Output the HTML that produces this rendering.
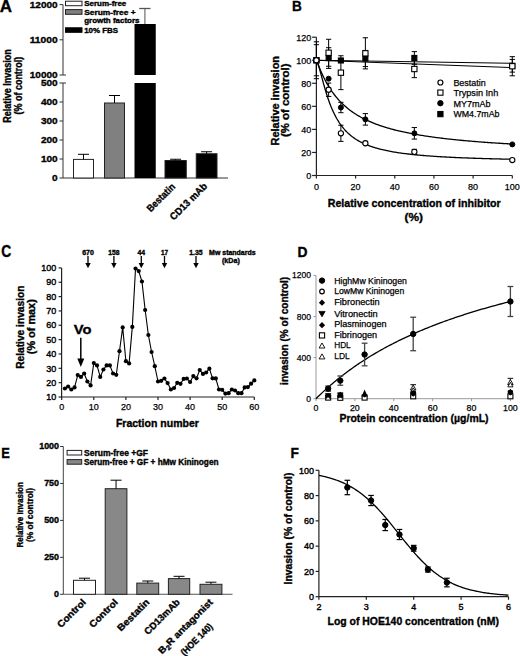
<!DOCTYPE html>
<html><head><meta charset="utf-8"><style>
html,body{margin:0;padding:0;background:#fff;}
svg{display:block;font-family:"Liberation Sans",sans-serif;}
text.b{stroke:#000;stroke-width:0.35px;}
text.r{stroke:#000;stroke-width:0.25px;}
</style></head><body>
<svg width="520" height="656" viewBox="0 0 520 656">
<rect width="520" height="656" fill="#fff"/>
<text x="-0.30" y="11.50" font-size="17" font-weight="bold" class="b">A</text>
<line x1="63.00" y1="4.60" x2="63.00" y2="75.00" stroke="#333" stroke-width="1"/>
<line x1="59.50" y1="4.60" x2="63.00" y2="4.60" stroke="#333" stroke-width="1"/>
<text x="57.70" y="7.60" font-size="9.8" font-weight="bold" class="b" text-anchor="end" textLength="28.00" lengthAdjust="spacingAndGlyphs">12000</text>
<line x1="59.50" y1="39.80" x2="63.00" y2="39.80" stroke="#333" stroke-width="1"/>
<text x="57.70" y="42.80" font-size="9.8" font-weight="bold" class="b" text-anchor="end" textLength="28.00" lengthAdjust="spacingAndGlyphs">11000</text>
<line x1="59.50" y1="75.00" x2="63.00" y2="75.00" stroke="#333" stroke-width="1"/>
<text x="57.70" y="78.00" font-size="9.8" font-weight="bold" class="b" text-anchor="end" textLength="28.00" lengthAdjust="spacingAndGlyphs">10000</text>
<line x1="63.00" y1="75.00" x2="66.00" y2="75.00" stroke="#333" stroke-width="1"/>
<line x1="63.00" y1="83.00" x2="66.00" y2="83.00" stroke="#333" stroke-width="1"/>
<line x1="63.00" y1="83.00" x2="63.00" y2="178.00" stroke="#333" stroke-width="1"/>
<line x1="59.50" y1="178.00" x2="63.00" y2="178.00" stroke="#333" stroke-width="1"/>
<text x="57.70" y="181.00" font-size="9.8" font-weight="bold" class="b" text-anchor="end" textLength="5.60" lengthAdjust="spacingAndGlyphs">0</text>
<line x1="59.50" y1="159.00" x2="63.00" y2="159.00" stroke="#333" stroke-width="1"/>
<text x="57.70" y="162.00" font-size="9.8" font-weight="bold" class="b" text-anchor="end" textLength="16.80" lengthAdjust="spacingAndGlyphs">100</text>
<line x1="59.50" y1="140.00" x2="63.00" y2="140.00" stroke="#333" stroke-width="1"/>
<text x="57.70" y="143.00" font-size="9.8" font-weight="bold" class="b" text-anchor="end" textLength="16.80" lengthAdjust="spacingAndGlyphs">200</text>
<line x1="59.50" y1="121.00" x2="63.00" y2="121.00" stroke="#333" stroke-width="1"/>
<text x="57.70" y="124.00" font-size="9.8" font-weight="bold" class="b" text-anchor="end" textLength="16.80" lengthAdjust="spacingAndGlyphs">300</text>
<line x1="59.50" y1="102.00" x2="63.00" y2="102.00" stroke="#333" stroke-width="1"/>
<text x="57.70" y="105.00" font-size="9.8" font-weight="bold" class="b" text-anchor="end" textLength="16.80" lengthAdjust="spacingAndGlyphs">400</text>
<line x1="59.50" y1="83.00" x2="63.00" y2="83.00" stroke="#333" stroke-width="1"/>
<text x="57.70" y="86.00" font-size="9.8" font-weight="bold" class="b" text-anchor="end" textLength="16.80" lengthAdjust="spacingAndGlyphs">500</text>
<line x1="63.00" y1="178.00" x2="228.00" y2="178.00" stroke="#333" stroke-width="1"/>
<rect x="73.50" y="159.40" width="20.00" height="18.60" fill="#fff" stroke="#222" stroke-width="1"/>
<line x1="83.50" y1="159.40" x2="83.50" y2="154.30" stroke="#000" stroke-width="1"/>
<line x1="78.00" y1="154.30" x2="89.00" y2="154.30" stroke="#000" stroke-width="1"/>
<rect x="104.50" y="103.00" width="20.00" height="75.00" fill="#808080" stroke="#222" stroke-width="1"/>
<line x1="114.50" y1="103.00" x2="114.50" y2="95.50" stroke="#000" stroke-width="1"/>
<line x1="109.00" y1="95.50" x2="120.00" y2="95.50" stroke="#000" stroke-width="1"/>
<rect x="134.50" y="24.00" width="21.25" height="51.00" fill="#000" stroke="#000" stroke-width="0"/>
<rect x="134.50" y="83.00" width="21.25" height="95.00" fill="#000" stroke="#000" stroke-width="0"/>
<line x1="144.90" y1="24.00" x2="144.90" y2="8.50" stroke="#777" stroke-width="1.3"/>
<line x1="139.20" y1="8.50" x2="150.50" y2="8.50" stroke="#555" stroke-width="1.3"/>
<rect x="165.00" y="160.50" width="21.25" height="17.50" fill="#000" stroke="#222" stroke-width="1"/>
<line x1="175.62" y1="160.50" x2="175.62" y2="159.25" stroke="#000" stroke-width="1"/>
<line x1="170.12" y1="159.25" x2="181.12" y2="159.25" stroke="#000" stroke-width="1"/>
<rect x="196.25" y="153.75" width="20.75" height="24.25" fill="#000" stroke="#222" stroke-width="1"/>
<line x1="206.62" y1="153.75" x2="206.62" y2="151.75" stroke="#000" stroke-width="1"/>
<line x1="201.12" y1="151.75" x2="212.12" y2="151.75" stroke="#000" stroke-width="1"/>
<rect x="65.50" y="1.20" width="16.50" height="4.50" fill="#fff" stroke="#222" stroke-width="1"/>
<rect x="65.50" y="9.60" width="16.50" height="4.70" fill="#808080" stroke="#222" stroke-width="1"/>
<rect x="65.50" y="27.80" width="16.50" height="4.50" fill="#000" stroke="#000" stroke-width="1"/>
<text x="84.20" y="6.30" font-size="7" font-weight="bold" class="b" textLength="42.10" lengthAdjust="spacingAndGlyphs">Serum-free</text>
<text x="84.20" y="14.60" font-size="7" font-weight="bold" class="b" textLength="51.50" lengthAdjust="spacingAndGlyphs">Serum-free +</text>
<text x="84.20" y="22.90" font-size="7" font-weight="bold" class="b" textLength="55.30" lengthAdjust="spacingAndGlyphs">growth factors</text>
<text x="84.20" y="32.50" font-size="7" font-weight="bold" class="b" textLength="33.80" lengthAdjust="spacingAndGlyphs">10% FBS</text>
<text x="11.20" y="86.00" font-size="10" font-weight="bold" class="b" text-anchor="middle" textLength="73.70" lengthAdjust="spacingAndGlyphs" transform="rotate(-90 11.20 86.00)">Relative Invasion</text>
<text x="21.80" y="85.60" font-size="10" font-weight="bold" class="b" text-anchor="middle" textLength="57.80" lengthAdjust="spacingAndGlyphs" transform="rotate(-90 21.80 85.60)">(% of control)</text>
<text x="175.80" y="187.40" font-size="10" font-weight="bold" class="b" text-anchor="end" textLength="35.50" lengthAdjust="spacingAndGlyphs" transform="rotate(-45 175.80 187.40)">Bestatin</text>
<text x="207.80" y="186.80" font-size="10" font-weight="bold" class="b" text-anchor="end" textLength="48.00" lengthAdjust="spacingAndGlyphs" transform="rotate(-45 207.80 186.80)">CD13 mAb</text>
<text x="291.90" y="11.20" font-size="15" font-weight="bold" class="b" textLength="9.80" lengthAdjust="spacingAndGlyphs">B</text>
<line x1="316.40" y1="37.20" x2="316.40" y2="175.50" stroke="#222" stroke-width="1.2"/>
<line x1="316.40" y1="175.50" x2="512.30" y2="175.50" stroke="#222" stroke-width="1.2"/>
<line x1="312.10" y1="175.50" x2="316.40" y2="175.50" stroke="#222" stroke-width="1.2"/>
<text x="311.20" y="178.80" font-size="9.5" class="r" text-anchor="end" textLength="5.00" lengthAdjust="spacingAndGlyphs">0</text>
<line x1="312.10" y1="152.45" x2="316.40" y2="152.45" stroke="#222" stroke-width="1.2"/>
<text x="311.20" y="155.75" font-size="9.5" class="r" text-anchor="end" textLength="10.00" lengthAdjust="spacingAndGlyphs">20</text>
<line x1="312.10" y1="129.40" x2="316.40" y2="129.40" stroke="#222" stroke-width="1.2"/>
<text x="311.20" y="132.70" font-size="9.5" class="r" text-anchor="end" textLength="10.00" lengthAdjust="spacingAndGlyphs">40</text>
<line x1="312.10" y1="106.35" x2="316.40" y2="106.35" stroke="#222" stroke-width="1.2"/>
<text x="311.20" y="109.65" font-size="9.5" class="r" text-anchor="end" textLength="10.00" lengthAdjust="spacingAndGlyphs">60</text>
<line x1="312.10" y1="83.30" x2="316.40" y2="83.30" stroke="#222" stroke-width="1.2"/>
<text x="311.20" y="86.60" font-size="9.5" class="r" text-anchor="end" textLength="10.00" lengthAdjust="spacingAndGlyphs">80</text>
<line x1="312.10" y1="60.25" x2="316.40" y2="60.25" stroke="#222" stroke-width="1.2"/>
<text x="311.20" y="63.55" font-size="9.5" class="r" text-anchor="end" textLength="15.00" lengthAdjust="spacingAndGlyphs">100</text>
<line x1="312.10" y1="37.20" x2="316.40" y2="37.20" stroke="#222" stroke-width="1.2"/>
<text x="311.20" y="40.50" font-size="9.5" class="r" text-anchor="end" textLength="15.00" lengthAdjust="spacingAndGlyphs">120</text>
<line x1="316.40" y1="175.50" x2="316.40" y2="178.50" stroke="#222" stroke-width="1.2"/>
<text x="316.40" y="189.60" font-size="9.8" class="r" text-anchor="middle" textLength="5.00" lengthAdjust="spacingAndGlyphs">0</text>
<line x1="355.58" y1="175.50" x2="355.58" y2="178.50" stroke="#222" stroke-width="1.2"/>
<text x="355.58" y="189.60" font-size="9.8" class="r" text-anchor="middle" textLength="10.00" lengthAdjust="spacingAndGlyphs">20</text>
<line x1="394.76" y1="175.50" x2="394.76" y2="178.50" stroke="#222" stroke-width="1.2"/>
<text x="394.76" y="189.60" font-size="9.8" class="r" text-anchor="middle" textLength="10.00" lengthAdjust="spacingAndGlyphs">40</text>
<line x1="433.94" y1="175.50" x2="433.94" y2="178.50" stroke="#222" stroke-width="1.2"/>
<text x="433.94" y="189.60" font-size="9.8" class="r" text-anchor="middle" textLength="10.00" lengthAdjust="spacingAndGlyphs">60</text>
<line x1="473.12" y1="175.50" x2="473.12" y2="178.50" stroke="#222" stroke-width="1.2"/>
<text x="473.12" y="189.60" font-size="9.8" class="r" text-anchor="middle" textLength="10.00" lengthAdjust="spacingAndGlyphs">80</text>
<line x1="512.30" y1="175.50" x2="512.30" y2="178.50" stroke="#222" stroke-width="1.2"/>
<text x="512.30" y="189.60" font-size="9.8" class="r" text-anchor="middle" textLength="15.00" lengthAdjust="spacingAndGlyphs">100</text>
<text x="414.20" y="207.00" font-size="11" font-weight="bold" class="b" text-anchor="middle" textLength="173.00" lengthAdjust="spacingAndGlyphs">Relative concentration of inhibitor</text>
<text x="413.80" y="220.60" font-size="11" font-weight="bold" class="b" text-anchor="middle" textLength="18.50" lengthAdjust="spacingAndGlyphs">(%)</text>
<text x="279.50" y="100.70" font-size="11" font-weight="bold" class="b" text-anchor="middle" textLength="89.50" lengthAdjust="spacingAndGlyphs" transform="rotate(-90 279.50 100.70)">Relative invasion</text>
<text x="289.40" y="100.30" font-size="11" font-weight="bold" class="b" text-anchor="middle" textLength="73.50" lengthAdjust="spacingAndGlyphs" transform="rotate(-90 289.40 100.30)">(% of control)</text>
<polyline points="316.40,60.25 316.65,60.83 316.90,61.45 317.15,62.08 317.40,62.72 317.66,63.35 317.91,63.99 318.16,64.62 318.41,65.25 318.66,65.88 318.91,66.50 319.16,67.12 319.41,67.73 319.66,68.34 319.92,68.94 320.17,69.53 320.42,70.12 320.67,70.71 320.92,71.29 321.17,71.86 321.42,72.43 321.67,72.99 321.93,73.54 322.18,74.09 322.43,74.63 322.68,75.17 322.93,75.70 323.18,76.23 323.43,76.75 323.68,77.26 323.93,77.77 324.19,78.27 324.44,78.77 324.69,79.26 324.94,79.75 325.19,80.23 325.44,80.71 325.69,81.18 325.94,81.64 326.19,82.11 326.19,82.11 327.37,84.19 328.54,86.17 329.71,88.06 330.88,89.85 332.05,91.56 333.22,93.19 334.39,94.75 335.56,96.24 336.73,97.66 337.90,99.02 339.07,100.32 340.24,101.57 341.41,102.77 342.58,103.91 343.75,105.02 344.92,106.07 346.09,107.09 347.26,108.07 348.43,109.02 349.60,109.92 350.77,110.80 351.95,111.64 353.12,112.46 354.29,113.25 355.46,114.01 356.63,114.74 357.80,115.45 358.97,116.14 360.14,116.81 361.31,117.45 362.48,118.08 363.65,118.68 364.82,119.27 365.99,119.84 367.16,120.39 368.33,120.93 369.50,121.45 370.67,121.96 371.84,122.45 373.01,122.93 374.18,123.40 375.35,123.85 376.53,124.30 377.70,124.73 378.87,125.15 380.04,125.55 381.21,125.95 382.38,126.34 383.55,126.72 384.72,127.09 385.89,127.45 387.06,127.80 388.23,128.15 389.40,128.48 390.57,128.81 391.74,129.13 392.91,129.44 394.08,129.75 395.25,130.05 396.42,130.34 397.59,130.63 398.76,130.91 399.93,131.19 401.11,131.45 402.28,131.72 403.45,131.98 404.62,132.23 405.79,132.48 406.96,132.72 408.13,132.96 409.30,133.19 410.47,133.42 411.64,133.64 412.81,133.86 413.98,134.08 415.15,134.29 416.32,134.50 417.49,134.70 418.66,134.90 419.83,135.10 421.00,135.29 422.17,135.48 423.34,135.67 424.51,135.85 425.69,136.03 426.86,136.21 428.03,136.38 429.20,136.55 430.37,136.72 431.54,136.88 432.71,137.04 433.88,137.20 435.05,137.36 436.22,137.52 437.39,137.67 438.56,137.82 439.73,137.97 440.90,138.11 442.07,138.25 443.24,138.39 444.41,138.53 445.58,138.67 446.75,138.80 447.92,138.93 449.09,139.06 450.26,139.19 451.44,139.32 452.61,139.44 453.78,139.57 454.95,139.69 456.12,139.81 457.29,139.92 458.46,140.04 459.63,140.15 460.80,140.27 461.97,140.38 463.14,140.49 464.31,140.60 465.48,140.70 466.65,140.81 467.82,140.91 468.99,141.01 470.16,141.12 471.33,141.22 472.50,141.31 473.67,141.41 474.84,141.51 476.02,141.60 477.19,141.70 478.36,141.79 479.53,141.88 480.70,141.97 481.87,142.06 483.04,142.15 484.21,142.23 485.38,142.32 486.55,142.40 487.72,142.49 488.89,142.57 490.06,142.65 491.23,142.73 492.40,142.81 493.57,142.89 494.74,142.97 495.91,143.04 497.08,143.12 498.25,143.20 499.42,143.27 500.60,143.34 501.77,143.42 502.94,143.49 504.11,143.56 505.28,143.63 506.45,143.70 507.62,143.77 508.79,143.84 509.96,143.90 511.13,143.97 512.30,144.04" fill="none" stroke="#000" stroke-width="1.3" stroke-linejoin="round"/>
<polyline points="316.40,60.25 316.65,60.50 316.90,60.93 317.15,61.46 317.40,62.06 317.66,62.73 317.91,63.44 318.16,64.20 318.41,64.99 318.66,65.81 318.91,66.66 319.16,67.53 319.41,68.42 319.66,69.32 319.92,70.23 320.17,71.15 320.42,72.08 320.67,73.02 320.92,73.96 321.17,74.91 321.42,75.85 321.67,76.79 321.93,77.74 322.18,78.67 322.43,79.61 322.68,80.54 322.93,81.47 323.18,82.39 323.43,83.30 323.68,84.21 323.93,85.11 324.19,86.00 324.44,86.88 324.69,87.76 324.94,88.62 325.19,89.48 325.44,90.32 325.69,91.16 325.94,91.99 326.19,92.80 326.19,92.80 327.37,96.48 328.54,99.93 329.71,103.16 330.88,106.18 332.05,108.99 333.22,111.62 334.39,114.07 335.56,116.35 336.73,118.47 337.90,120.46 339.07,122.31 340.24,124.04 341.41,125.66 342.58,127.18 343.75,128.60 344.92,129.94 346.09,131.19 347.26,132.37 348.43,133.48 349.60,134.52 350.77,135.51 351.95,136.44 353.12,137.32 354.29,138.15 355.46,138.94 356.63,139.69 357.80,140.40 358.97,141.08 360.14,141.72 361.31,142.33 362.48,142.91 363.65,143.46 364.82,143.99 365.99,144.49 367.16,144.98 368.33,145.44 369.50,145.88 370.67,146.30 371.84,146.70 373.01,147.09 374.18,147.46 375.35,147.82 376.53,148.16 377.70,148.49 378.87,148.81 380.04,149.12 381.21,149.41 382.38,149.69 383.55,149.97 384.72,150.23 385.89,150.48 387.06,150.73 388.23,150.96 389.40,151.19 390.57,151.41 391.74,151.63 392.91,151.83 394.08,152.03 395.25,152.23 396.42,152.41 397.59,152.60 398.76,152.77 399.93,152.94 401.11,153.11 402.28,153.27 403.45,153.42 404.62,153.58 405.79,153.72 406.96,153.87 408.13,154.01 409.30,154.14 410.47,154.27 411.64,154.40 412.81,154.52 413.98,154.65 415.15,154.76 416.32,154.88 417.49,154.99 418.66,155.10 419.83,155.21 421.00,155.31 422.17,155.41 423.34,155.51 424.51,155.61 425.69,155.70 426.86,155.79 428.03,155.88 429.20,155.97 430.37,156.05 431.54,156.14 432.71,156.22 433.88,156.30 435.05,156.38 436.22,156.45 437.39,156.53 438.56,156.60 439.73,156.67 440.90,156.74 442.07,156.81 443.24,156.88 444.41,156.94 445.58,157.01 446.75,157.07 447.92,157.13 449.09,157.19 450.26,157.25 451.44,157.31 452.61,157.37 453.78,157.42 454.95,157.48 456.12,157.53 457.29,157.58 458.46,157.63 459.63,157.68 460.80,157.73 461.97,157.78 463.14,157.83 464.31,157.88 465.48,157.92 466.65,157.97 467.82,158.01 468.99,158.06 470.16,158.10 471.33,158.14 472.50,158.18 473.67,158.23 474.84,158.27 476.02,158.30 477.19,158.34 478.36,158.38 479.53,158.42 480.70,158.46 481.87,158.49 483.04,158.53 484.21,158.56 485.38,158.60 486.55,158.63 487.72,158.66 488.89,158.70 490.06,158.73 491.23,158.76 492.40,158.79 493.57,158.82 494.74,158.85 495.91,158.88 497.08,158.91 498.25,158.94 499.42,158.97 500.60,159.00 501.77,159.03 502.94,159.05 504.11,159.08 505.28,159.11 506.45,159.13 507.62,159.16 508.79,159.18 509.96,159.21 511.13,159.23 512.30,159.26" fill="none" stroke="#000" stroke-width="1.3" stroke-linejoin="round"/>
<line x1="316.40" y1="60.25" x2="512.30" y2="63.36" stroke="#000" stroke-width="1.1"/>
<line x1="316.40" y1="60.25" x2="512.30" y2="67.63" stroke="#000" stroke-width="1.1"/>
<line x1="316.40" y1="60.25" x2="316.40" y2="41.81" stroke="#000" stroke-width="1.0"/>
<line x1="313.75" y1="41.81" x2="319.05" y2="41.81" stroke="#000" stroke-width="1.0"/>
<line x1="316.40" y1="60.25" x2="316.40" y2="78.69" stroke="#000" stroke-width="1.0"/>
<line x1="313.75" y1="78.69" x2="319.05" y2="78.69" stroke="#000" stroke-width="1.0"/>
<line x1="316.40" y1="60.25" x2="316.40" y2="44.69" stroke="#000" stroke-width="1.0"/>
<line x1="313.75" y1="44.69" x2="319.05" y2="44.69" stroke="#000" stroke-width="1.0"/>
<line x1="316.40" y1="60.25" x2="316.40" y2="75.81" stroke="#000" stroke-width="1.0"/>
<line x1="313.75" y1="75.81" x2="319.05" y2="75.81" stroke="#000" stroke-width="1.0"/>
<line x1="328.64" y1="52.76" x2="328.64" y2="39.27" stroke="#000" stroke-width="1.0"/>
<line x1="325.99" y1="39.27" x2="331.29" y2="39.27" stroke="#000" stroke-width="1.0"/>
<line x1="328.64" y1="52.76" x2="328.64" y2="66.24" stroke="#000" stroke-width="1.0"/>
<line x1="325.99" y1="66.24" x2="331.29" y2="66.24" stroke="#000" stroke-width="1.0"/>
<line x1="340.89" y1="72.70" x2="340.89" y2="55.76" stroke="#000" stroke-width="1.0"/>
<line x1="338.24" y1="55.76" x2="343.54" y2="55.76" stroke="#000" stroke-width="1.0"/>
<line x1="340.89" y1="72.70" x2="340.89" y2="89.64" stroke="#000" stroke-width="1.0"/>
<line x1="338.24" y1="89.64" x2="343.54" y2="89.64" stroke="#000" stroke-width="1.0"/>
<line x1="365.38" y1="53.33" x2="365.38" y2="37.78" stroke="#000" stroke-width="1.0"/>
<line x1="362.73" y1="37.78" x2="368.02" y2="37.78" stroke="#000" stroke-width="1.0"/>
<line x1="365.38" y1="53.33" x2="365.38" y2="68.89" stroke="#000" stroke-width="1.0"/>
<line x1="362.73" y1="68.89" x2="368.02" y2="68.89" stroke="#000" stroke-width="1.0"/>
<line x1="414.35" y1="69.01" x2="414.35" y2="60.37" stroke="#000" stroke-width="1.0"/>
<line x1="411.70" y1="60.37" x2="417.00" y2="60.37" stroke="#000" stroke-width="1.0"/>
<line x1="414.35" y1="69.01" x2="414.35" y2="77.65" stroke="#000" stroke-width="1.0"/>
<line x1="411.70" y1="77.65" x2="417.00" y2="77.65" stroke="#000" stroke-width="1.0"/>
<line x1="512.30" y1="66.24" x2="512.30" y2="56.68" stroke="#000" stroke-width="1.0"/>
<line x1="509.65" y1="56.68" x2="514.95" y2="56.68" stroke="#000" stroke-width="1.0"/>
<line x1="512.30" y1="66.24" x2="512.30" y2="75.81" stroke="#000" stroke-width="1.0"/>
<line x1="509.65" y1="75.81" x2="514.95" y2="75.81" stroke="#000" stroke-width="1.0"/>
<line x1="328.64" y1="58.06" x2="328.64" y2="47.69" stroke="#000" stroke-width="1.0"/>
<line x1="325.99" y1="47.69" x2="331.29" y2="47.69" stroke="#000" stroke-width="1.0"/>
<line x1="328.64" y1="58.06" x2="328.64" y2="68.43" stroke="#000" stroke-width="1.0"/>
<line x1="325.99" y1="68.43" x2="331.29" y2="68.43" stroke="#000" stroke-width="1.0"/>
<line x1="365.38" y1="58.52" x2="365.38" y2="50.45" stroke="#000" stroke-width="1.0"/>
<line x1="362.73" y1="50.45" x2="368.02" y2="50.45" stroke="#000" stroke-width="1.0"/>
<line x1="365.38" y1="58.52" x2="365.38" y2="66.59" stroke="#000" stroke-width="1.0"/>
<line x1="362.73" y1="66.59" x2="368.02" y2="66.59" stroke="#000" stroke-width="1.0"/>
<line x1="414.35" y1="57.94" x2="414.35" y2="51.61" stroke="#000" stroke-width="1.0"/>
<line x1="411.70" y1="51.61" x2="417.00" y2="51.61" stroke="#000" stroke-width="1.0"/>
<line x1="414.35" y1="57.94" x2="414.35" y2="64.28" stroke="#000" stroke-width="1.0"/>
<line x1="411.70" y1="64.28" x2="417.00" y2="64.28" stroke="#000" stroke-width="1.0"/>
<line x1="512.30" y1="65.78" x2="512.30" y2="59.44" stroke="#000" stroke-width="1.0"/>
<line x1="509.65" y1="59.44" x2="514.95" y2="59.44" stroke="#000" stroke-width="1.0"/>
<line x1="512.30" y1="65.78" x2="512.30" y2="72.12" stroke="#000" stroke-width="1.0"/>
<line x1="509.65" y1="72.12" x2="514.95" y2="72.12" stroke="#000" stroke-width="1.0"/>
<line x1="340.89" y1="107.50" x2="340.89" y2="102.32" stroke="#000" stroke-width="1.0"/>
<line x1="338.24" y1="102.32" x2="343.54" y2="102.32" stroke="#000" stroke-width="1.0"/>
<line x1="340.89" y1="107.50" x2="340.89" y2="112.69" stroke="#000" stroke-width="1.0"/>
<line x1="338.24" y1="112.69" x2="343.54" y2="112.69" stroke="#000" stroke-width="1.0"/>
<line x1="365.38" y1="119.37" x2="365.38" y2="113.61" stroke="#000" stroke-width="1.0"/>
<line x1="362.73" y1="113.61" x2="368.02" y2="113.61" stroke="#000" stroke-width="1.0"/>
<line x1="365.38" y1="119.37" x2="365.38" y2="125.14" stroke="#000" stroke-width="1.0"/>
<line x1="362.73" y1="125.14" x2="368.02" y2="125.14" stroke="#000" stroke-width="1.0"/>
<line x1="414.35" y1="133.32" x2="414.35" y2="127.56" stroke="#000" stroke-width="1.0"/>
<line x1="411.70" y1="127.56" x2="417.00" y2="127.56" stroke="#000" stroke-width="1.0"/>
<line x1="414.35" y1="133.32" x2="414.35" y2="139.08" stroke="#000" stroke-width="1.0"/>
<line x1="411.70" y1="139.08" x2="417.00" y2="139.08" stroke="#000" stroke-width="1.0"/>
<line x1="328.64" y1="89.75" x2="328.64" y2="83.07" stroke="#000" stroke-width="1.0"/>
<line x1="325.99" y1="83.07" x2="331.29" y2="83.07" stroke="#000" stroke-width="1.0"/>
<line x1="328.64" y1="89.75" x2="328.64" y2="96.44" stroke="#000" stroke-width="1.0"/>
<line x1="325.99" y1="96.44" x2="331.29" y2="96.44" stroke="#000" stroke-width="1.0"/>
<line x1="340.89" y1="133.32" x2="340.89" y2="125.25" stroke="#000" stroke-width="1.0"/>
<line x1="338.24" y1="125.25" x2="343.54" y2="125.25" stroke="#000" stroke-width="1.0"/>
<line x1="340.89" y1="133.32" x2="340.89" y2="141.39" stroke="#000" stroke-width="1.0"/>
<line x1="338.24" y1="141.39" x2="343.54" y2="141.39" stroke="#000" stroke-width="1.0"/>
<line x1="414.35" y1="151.87" x2="414.35" y2="149.34" stroke="#000" stroke-width="1.0"/>
<line x1="411.70" y1="149.34" x2="417.00" y2="149.34" stroke="#000" stroke-width="1.0"/>
<line x1="414.35" y1="151.87" x2="414.35" y2="154.41" stroke="#000" stroke-width="1.0"/>
<line x1="411.70" y1="154.41" x2="417.00" y2="154.41" stroke="#000" stroke-width="1.0"/>
<rect x="313.90" y="57.75" width="5.00" height="5.00" fill="#000" stroke="#000" stroke-width="1.1"/>
<rect x="326.14" y="55.56" width="5.00" height="5.00" fill="#000" stroke="#000" stroke-width="1.1"/>
<rect x="338.39" y="57.98" width="5.00" height="5.00" fill="#000" stroke="#000" stroke-width="1.1"/>
<rect x="362.88" y="56.02" width="5.00" height="5.00" fill="#000" stroke="#000" stroke-width="1.1"/>
<rect x="411.85" y="55.44" width="5.00" height="5.00" fill="#000" stroke="#000" stroke-width="1.1"/>
<rect x="509.80" y="63.28" width="5.00" height="5.00" fill="#000" stroke="#000" stroke-width="1.1"/>
<rect x="313.75" y="57.60" width="5.30" height="5.30" fill="#fff" stroke="#000" stroke-width="1.1"/>
<rect x="325.99" y="50.11" width="5.30" height="5.30" fill="#fff" stroke="#000" stroke-width="1.1"/>
<rect x="338.24" y="70.05" width="5.30" height="5.30" fill="#fff" stroke="#000" stroke-width="1.1"/>
<rect x="362.73" y="50.68" width="5.30" height="5.30" fill="#fff" stroke="#000" stroke-width="1.1"/>
<rect x="411.70" y="66.36" width="5.30" height="5.30" fill="#fff" stroke="#000" stroke-width="1.1"/>
<rect x="509.65" y="63.59" width="5.30" height="5.30" fill="#fff" stroke="#000" stroke-width="1.1"/>
<circle cx="316.40" cy="60.25" r="2.5" fill="#000" stroke="#000" stroke-width="1"/>
<circle cx="328.64" cy="78.69" r="2.5" fill="#000" stroke="#000" stroke-width="1"/>
<circle cx="340.89" cy="107.50" r="2.5" fill="#000" stroke="#000" stroke-width="1"/>
<circle cx="365.38" cy="119.37" r="2.5" fill="#000" stroke="#000" stroke-width="1"/>
<circle cx="414.35" cy="133.32" r="2.5" fill="#000" stroke="#000" stroke-width="1"/>
<circle cx="512.30" cy="144.38" r="2.5" fill="#000" stroke="#000" stroke-width="1"/>
<circle cx="316.40" cy="60.25" r="2.6" fill="#fff" stroke="#000" stroke-width="1.1"/>
<circle cx="328.64" cy="89.75" r="2.6" fill="#fff" stroke="#000" stroke-width="1.1"/>
<circle cx="340.89" cy="133.32" r="2.6" fill="#fff" stroke="#000" stroke-width="1.1"/>
<circle cx="365.38" cy="143.23" r="2.6" fill="#fff" stroke="#000" stroke-width="1.1"/>
<circle cx="414.35" cy="151.87" r="2.6" fill="#fff" stroke="#000" stroke-width="1.1"/>
<circle cx="512.30" cy="160.06" r="2.6" fill="#fff" stroke="#000" stroke-width="1.1"/>
<circle cx="440.40" cy="82.50" r="2.5" fill="#fff" stroke="#000" stroke-width="1.2"/>
<rect x="437.80" y="90.00" width="5.20" height="5.20" fill="#fff" stroke="#000" stroke-width="1.1"/>
<circle cx="440.40" cy="103.20" r="2.7" fill="#000" stroke="#000" stroke-width="1"/>
<rect x="437.80" y="111.50" width="5.20" height="5.20" fill="#000" stroke="#000" stroke-width="1.1"/>
<text x="453.40" y="85.90" font-size="9" class="r" textLength="32.30" lengthAdjust="spacingAndGlyphs">Bestatin</text>
<text x="453.40" y="96.30" font-size="9" class="r" textLength="44.90" lengthAdjust="spacingAndGlyphs">Trypsin Inh</text>
<text x="453.40" y="106.70" font-size="9" class="r" textLength="37.00" lengthAdjust="spacingAndGlyphs">MY7mAb</text>
<text x="453.40" y="117.10" font-size="9" class="r" textLength="46.10" lengthAdjust="spacingAndGlyphs">WM4.7mAb</text>
<text x="1.20" y="257.20" font-size="16" font-weight="bold" class="b" textLength="10.00" lengthAdjust="spacingAndGlyphs">C</text>
<line x1="61.60" y1="267.90" x2="61.60" y2="397.00" stroke="#222" stroke-width="1.2"/>
<line x1="61.60" y1="397.00" x2="254.30" y2="397.00" stroke="#222" stroke-width="1.2"/>
<line x1="58.60" y1="397.00" x2="61.60" y2="397.00" stroke="#222" stroke-width="1.2"/>
<text x="56.20" y="400.20" font-size="9.2" class="r" text-anchor="end" textLength="10.00" lengthAdjust="spacingAndGlyphs" style="stroke-width:0.4px">10</text>
<line x1="58.60" y1="382.66" x2="61.60" y2="382.66" stroke="#222" stroke-width="1.2"/>
<text x="56.20" y="385.86" font-size="9.2" class="r" text-anchor="end" textLength="10.00" lengthAdjust="spacingAndGlyphs" style="stroke-width:0.4px">20</text>
<line x1="58.60" y1="368.31" x2="61.60" y2="368.31" stroke="#222" stroke-width="1.2"/>
<text x="56.20" y="371.51" font-size="9.2" class="r" text-anchor="end" textLength="10.00" lengthAdjust="spacingAndGlyphs" style="stroke-width:0.4px">30</text>
<line x1="58.60" y1="353.97" x2="61.60" y2="353.97" stroke="#222" stroke-width="1.2"/>
<text x="56.20" y="357.17" font-size="9.2" class="r" text-anchor="end" textLength="10.00" lengthAdjust="spacingAndGlyphs" style="stroke-width:0.4px">40</text>
<line x1="58.60" y1="339.62" x2="61.60" y2="339.62" stroke="#222" stroke-width="1.2"/>
<text x="56.20" y="342.82" font-size="9.2" class="r" text-anchor="end" textLength="10.00" lengthAdjust="spacingAndGlyphs" style="stroke-width:0.4px">50</text>
<line x1="58.60" y1="325.28" x2="61.60" y2="325.28" stroke="#222" stroke-width="1.2"/>
<text x="56.20" y="328.48" font-size="9.2" class="r" text-anchor="end" textLength="10.00" lengthAdjust="spacingAndGlyphs" style="stroke-width:0.4px">60</text>
<line x1="58.60" y1="310.94" x2="61.60" y2="310.94" stroke="#222" stroke-width="1.2"/>
<text x="56.20" y="314.14" font-size="9.2" class="r" text-anchor="end" textLength="10.00" lengthAdjust="spacingAndGlyphs" style="stroke-width:0.4px">70</text>
<line x1="58.60" y1="296.59" x2="61.60" y2="296.59" stroke="#222" stroke-width="1.2"/>
<text x="56.20" y="299.79" font-size="9.2" class="r" text-anchor="end" textLength="10.00" lengthAdjust="spacingAndGlyphs" style="stroke-width:0.4px">80</text>
<line x1="58.60" y1="282.25" x2="61.60" y2="282.25" stroke="#222" stroke-width="1.2"/>
<text x="56.20" y="285.45" font-size="9.2" class="r" text-anchor="end" textLength="10.00" lengthAdjust="spacingAndGlyphs" style="stroke-width:0.4px">90</text>
<line x1="58.60" y1="267.90" x2="61.60" y2="267.90" stroke="#222" stroke-width="1.2"/>
<text x="56.20" y="271.10" font-size="9.2" class="r" text-anchor="end" textLength="15.00" lengthAdjust="spacingAndGlyphs" style="stroke-width:0.4px">100</text>
<line x1="61.70" y1="397.00" x2="61.70" y2="400.00" stroke="#222" stroke-width="1.2"/>
<text x="61.70" y="409.90" font-size="9.2" class="r" text-anchor="middle" textLength="5.00" lengthAdjust="spacingAndGlyphs">0</text>
<line x1="93.80" y1="397.00" x2="93.80" y2="400.00" stroke="#222" stroke-width="1.2"/>
<text x="93.80" y="409.90" font-size="9.2" class="r" text-anchor="middle" textLength="10.00" lengthAdjust="spacingAndGlyphs">10</text>
<line x1="125.90" y1="397.00" x2="125.90" y2="400.00" stroke="#222" stroke-width="1.2"/>
<text x="125.90" y="409.90" font-size="9.2" class="r" text-anchor="middle" textLength="10.00" lengthAdjust="spacingAndGlyphs">20</text>
<line x1="158.00" y1="397.00" x2="158.00" y2="400.00" stroke="#222" stroke-width="1.2"/>
<text x="158.00" y="409.90" font-size="9.2" class="r" text-anchor="middle" textLength="10.00" lengthAdjust="spacingAndGlyphs">30</text>
<line x1="190.10" y1="397.00" x2="190.10" y2="400.00" stroke="#222" stroke-width="1.2"/>
<text x="190.10" y="409.90" font-size="9.2" class="r" text-anchor="middle" textLength="10.00" lengthAdjust="spacingAndGlyphs">40</text>
<line x1="222.20" y1="397.00" x2="222.20" y2="400.00" stroke="#222" stroke-width="1.2"/>
<text x="222.20" y="409.90" font-size="9.2" class="r" text-anchor="middle" textLength="10.00" lengthAdjust="spacingAndGlyphs">50</text>
<line x1="254.30" y1="397.00" x2="254.30" y2="400.00" stroke="#222" stroke-width="1.2"/>
<text x="254.30" y="409.90" font-size="9.2" class="r" text-anchor="middle" textLength="10.00" lengthAdjust="spacingAndGlyphs">60</text>
<text x="157.40" y="426.80" font-size="10.6" font-weight="bold" class="b" text-anchor="middle" textLength="83.00" lengthAdjust="spacingAndGlyphs">Fraction number</text>
<text x="23.70" y="327.20" font-size="10.2" font-weight="bold" class="b" text-anchor="middle" textLength="83.30" lengthAdjust="spacingAndGlyphs" transform="rotate(-90 23.70 327.20)">Relative invasion</text>
<text x="35.40" y="326.70" font-size="10.2" font-weight="bold" class="b" text-anchor="middle" textLength="55.00" lengthAdjust="spacingAndGlyphs" transform="rotate(-90 35.40 326.70)">(% of max)</text>
<polyline points="64.91,388.50 68.12,386.50 71.33,389.50 74.54,387.40 77.75,375.10 80.96,376.90 84.17,373.50 87.38,381.50 90.59,385.40 93.80,363.10 97.01,365.40 100.22,376.90 103.43,369.50 106.64,365.40 109.85,365.40 113.06,373.50 116.27,374.80 119.48,351.20 122.69,327.40 125.90,361.20 129.11,363.40 132.32,326.90 135.53,268.50 138.74,271.10 141.95,281.50 145.16,310.00 148.37,335.00 151.58,352.00 154.79,366.20 158.00,381.50 161.21,380.80 164.42,378.50 167.63,383.10 170.84,389.50 174.05,388.00 177.26,382.80 180.47,383.80 183.68,378.90 186.89,378.50 190.10,382.00 193.31,376.10 196.52,378.30 199.73,370.00 202.94,373.90 206.15,372.50 209.36,368.70 212.57,378.30 215.78,378.40 218.99,389.50 222.20,389.80 225.41,393.60 228.62,393.20 231.83,389.50 235.04,390.50 238.25,393.20 241.46,393.20 244.67,387.40 247.88,387.10 251.09,383.70 254.30,380.40" fill="none" stroke="#000" stroke-width="1.1" stroke-linejoin="round"/>
<circle cx="64.91" cy="388.50" r="2.1" fill="#000" stroke="none" stroke-width="0"/>
<circle cx="68.12" cy="386.50" r="2.1" fill="#000" stroke="none" stroke-width="0"/>
<circle cx="71.33" cy="389.50" r="2.1" fill="#000" stroke="none" stroke-width="0"/>
<circle cx="74.54" cy="387.40" r="2.1" fill="#000" stroke="none" stroke-width="0"/>
<circle cx="77.75" cy="375.10" r="2.1" fill="#000" stroke="none" stroke-width="0"/>
<circle cx="80.96" cy="376.90" r="2.1" fill="#000" stroke="none" stroke-width="0"/>
<circle cx="84.17" cy="373.50" r="2.1" fill="#000" stroke="none" stroke-width="0"/>
<circle cx="87.38" cy="381.50" r="2.1" fill="#000" stroke="none" stroke-width="0"/>
<circle cx="90.59" cy="385.40" r="2.1" fill="#000" stroke="none" stroke-width="0"/>
<circle cx="93.80" cy="363.10" r="2.1" fill="#000" stroke="none" stroke-width="0"/>
<circle cx="97.01" cy="365.40" r="2.1" fill="#000" stroke="none" stroke-width="0"/>
<circle cx="100.22" cy="376.90" r="2.1" fill="#000" stroke="none" stroke-width="0"/>
<circle cx="103.43" cy="369.50" r="2.1" fill="#000" stroke="none" stroke-width="0"/>
<circle cx="106.64" cy="365.40" r="2.1" fill="#000" stroke="none" stroke-width="0"/>
<circle cx="109.85" cy="365.40" r="2.1" fill="#000" stroke="none" stroke-width="0"/>
<circle cx="113.06" cy="373.50" r="2.1" fill="#000" stroke="none" stroke-width="0"/>
<circle cx="116.27" cy="374.80" r="2.1" fill="#000" stroke="none" stroke-width="0"/>
<circle cx="119.48" cy="351.20" r="2.1" fill="#000" stroke="none" stroke-width="0"/>
<circle cx="122.69" cy="327.40" r="2.1" fill="#000" stroke="none" stroke-width="0"/>
<circle cx="125.90" cy="361.20" r="2.1" fill="#000" stroke="none" stroke-width="0"/>
<circle cx="129.11" cy="363.40" r="2.1" fill="#000" stroke="none" stroke-width="0"/>
<circle cx="132.32" cy="326.90" r="2.1" fill="#000" stroke="none" stroke-width="0"/>
<circle cx="135.53" cy="268.50" r="2.1" fill="#000" stroke="none" stroke-width="0"/>
<circle cx="138.74" cy="271.10" r="2.1" fill="#000" stroke="none" stroke-width="0"/>
<circle cx="141.95" cy="281.50" r="2.1" fill="#000" stroke="none" stroke-width="0"/>
<circle cx="145.16" cy="310.00" r="2.1" fill="#000" stroke="none" stroke-width="0"/>
<circle cx="148.37" cy="335.00" r="2.1" fill="#000" stroke="none" stroke-width="0"/>
<circle cx="151.58" cy="352.00" r="2.1" fill="#000" stroke="none" stroke-width="0"/>
<circle cx="154.79" cy="366.20" r="2.1" fill="#000" stroke="none" stroke-width="0"/>
<circle cx="158.00" cy="381.50" r="2.1" fill="#000" stroke="none" stroke-width="0"/>
<circle cx="161.21" cy="380.80" r="2.1" fill="#000" stroke="none" stroke-width="0"/>
<circle cx="164.42" cy="378.50" r="2.1" fill="#000" stroke="none" stroke-width="0"/>
<circle cx="167.63" cy="383.10" r="2.1" fill="#000" stroke="none" stroke-width="0"/>
<circle cx="170.84" cy="389.50" r="2.1" fill="#000" stroke="none" stroke-width="0"/>
<circle cx="174.05" cy="388.00" r="2.1" fill="#000" stroke="none" stroke-width="0"/>
<circle cx="177.26" cy="382.80" r="2.1" fill="#000" stroke="none" stroke-width="0"/>
<circle cx="180.47" cy="383.80" r="2.1" fill="#000" stroke="none" stroke-width="0"/>
<circle cx="183.68" cy="378.90" r="2.1" fill="#000" stroke="none" stroke-width="0"/>
<circle cx="186.89" cy="378.50" r="2.1" fill="#000" stroke="none" stroke-width="0"/>
<circle cx="190.10" cy="382.00" r="2.1" fill="#000" stroke="none" stroke-width="0"/>
<circle cx="193.31" cy="376.10" r="2.1" fill="#000" stroke="none" stroke-width="0"/>
<circle cx="196.52" cy="378.30" r="2.1" fill="#000" stroke="none" stroke-width="0"/>
<circle cx="199.73" cy="370.00" r="2.1" fill="#000" stroke="none" stroke-width="0"/>
<circle cx="202.94" cy="373.90" r="2.1" fill="#000" stroke="none" stroke-width="0"/>
<circle cx="206.15" cy="372.50" r="2.1" fill="#000" stroke="none" stroke-width="0"/>
<circle cx="209.36" cy="368.70" r="2.1" fill="#000" stroke="none" stroke-width="0"/>
<circle cx="212.57" cy="378.30" r="2.1" fill="#000" stroke="none" stroke-width="0"/>
<circle cx="215.78" cy="378.40" r="2.1" fill="#000" stroke="none" stroke-width="0"/>
<circle cx="218.99" cy="389.50" r="2.1" fill="#000" stroke="none" stroke-width="0"/>
<circle cx="222.20" cy="389.80" r="2.1" fill="#000" stroke="none" stroke-width="0"/>
<circle cx="225.41" cy="393.60" r="2.1" fill="#000" stroke="none" stroke-width="0"/>
<circle cx="228.62" cy="393.20" r="2.1" fill="#000" stroke="none" stroke-width="0"/>
<circle cx="231.83" cy="389.50" r="2.1" fill="#000" stroke="none" stroke-width="0"/>
<circle cx="235.04" cy="390.50" r="2.1" fill="#000" stroke="none" stroke-width="0"/>
<circle cx="238.25" cy="393.20" r="2.1" fill="#000" stroke="none" stroke-width="0"/>
<circle cx="241.46" cy="393.20" r="2.1" fill="#000" stroke="none" stroke-width="0"/>
<circle cx="244.67" cy="387.40" r="2.1" fill="#000" stroke="none" stroke-width="0"/>
<circle cx="247.88" cy="387.10" r="2.1" fill="#000" stroke="none" stroke-width="0"/>
<circle cx="251.09" cy="383.70" r="2.1" fill="#000" stroke="none" stroke-width="0"/>
<circle cx="254.30" cy="380.40" r="2.1" fill="#000" stroke="none" stroke-width="0"/>
<text x="88.00" y="255.00" font-size="6.5" font-weight="bold" class="b" text-anchor="middle" textLength="11.60" lengthAdjust="spacingAndGlyphs">670</text>
<line x1="88.00" y1="256.00" x2="88.00" y2="264.00" stroke="#000" stroke-width="1.3"/>
<polygon points="85.30,263.00 90.70,263.00 88.00,268.30" fill="#000" stroke="none" stroke-width="1"/>
<text x="113.90" y="255.00" font-size="6.5" font-weight="bold" class="b" text-anchor="middle" textLength="11.20" lengthAdjust="spacingAndGlyphs">158</text>
<line x1="113.90" y1="256.00" x2="113.90" y2="264.00" stroke="#000" stroke-width="1.3"/>
<polygon points="111.20,263.00 116.60,263.00 113.90,268.30" fill="#000" stroke="none" stroke-width="1"/>
<text x="141.30" y="255.00" font-size="6.5" font-weight="bold" class="b" text-anchor="middle" textLength="7.70" lengthAdjust="spacingAndGlyphs">44</text>
<line x1="141.30" y1="256.00" x2="141.30" y2="264.00" stroke="#000" stroke-width="1.3"/>
<polygon points="138.60,263.00 144.00,263.00 141.30,268.30" fill="#000" stroke="none" stroke-width="1"/>
<text x="164.50" y="255.00" font-size="6.5" font-weight="bold" class="b" text-anchor="middle" textLength="7.10" lengthAdjust="spacingAndGlyphs">17</text>
<line x1="164.50" y1="256.00" x2="164.50" y2="264.00" stroke="#000" stroke-width="1.3"/>
<polygon points="161.80,263.00 167.20,263.00 164.50,268.30" fill="#000" stroke="none" stroke-width="1"/>
<text x="196.00" y="255.00" font-size="6.5" font-weight="bold" class="b" text-anchor="middle" textLength="13.40" lengthAdjust="spacingAndGlyphs">1.35</text>
<line x1="196.00" y1="256.00" x2="196.00" y2="264.00" stroke="#000" stroke-width="1.3"/>
<polygon points="193.30,263.00 198.70,263.00 196.00,268.30" fill="#000" stroke="none" stroke-width="1"/>
<text x="209.10" y="255.00" font-size="6.5" font-weight="bold" class="b" textLength="46.50" lengthAdjust="spacingAndGlyphs">Mw standards</text>
<text x="230.90" y="262.60" font-size="6.5" font-weight="bold" class="b" text-anchor="middle" textLength="17.80" lengthAdjust="spacingAndGlyphs">(kDa)</text>
<text x="73.80" y="334.20" font-size="13" font-weight="bold" class="b" textLength="17.70" lengthAdjust="spacingAndGlyphs">Vo</text>
<line x1="80.80" y1="337.70" x2="80.80" y2="360.00" stroke="#000" stroke-width="1.5"/>
<polygon points="77.30,358.50 84.30,358.50 80.80,366.90" fill="#000" stroke="none" stroke-width="1"/>
<text x="297.40" y="256.60" font-size="15.5" font-weight="bold" class="b" textLength="10.00" lengthAdjust="spacingAndGlyphs">D</text>
<line x1="316.00" y1="275.40" x2="316.00" y2="398.70" stroke="#999" stroke-width="1"/>
<line x1="316.00" y1="398.70" x2="510.40" y2="398.70" stroke="#999" stroke-width="1"/>
<line x1="313.50" y1="398.70" x2="316.00" y2="398.70" stroke="#999" stroke-width="1"/>
<text x="311.00" y="401.70" font-size="9" class="r" text-anchor="end" textLength="4.75" lengthAdjust="spacingAndGlyphs">0</text>
<line x1="313.50" y1="357.60" x2="316.00" y2="357.60" stroke="#999" stroke-width="1"/>
<text x="311.00" y="360.60" font-size="9" class="r" text-anchor="end" textLength="14.25" lengthAdjust="spacingAndGlyphs">400</text>
<line x1="313.50" y1="316.50" x2="316.00" y2="316.50" stroke="#999" stroke-width="1"/>
<text x="311.00" y="319.50" font-size="9" class="r" text-anchor="end" textLength="14.25" lengthAdjust="spacingAndGlyphs">800</text>
<line x1="313.50" y1="275.40" x2="316.00" y2="275.40" stroke="#999" stroke-width="1"/>
<text x="311.00" y="278.40" font-size="9" class="r" text-anchor="end" textLength="19.00" lengthAdjust="spacingAndGlyphs">1200</text>
<line x1="316.00" y1="398.70" x2="316.00" y2="401.20" stroke="#999" stroke-width="1"/>
<text x="316.00" y="411.30" font-size="9" class="r" text-anchor="middle" textLength="4.90" lengthAdjust="spacingAndGlyphs">0</text>
<line x1="354.88" y1="398.70" x2="354.88" y2="401.20" stroke="#999" stroke-width="1"/>
<text x="354.88" y="411.30" font-size="9" class="r" text-anchor="middle" textLength="9.80" lengthAdjust="spacingAndGlyphs">20</text>
<line x1="393.76" y1="398.70" x2="393.76" y2="401.20" stroke="#999" stroke-width="1"/>
<text x="393.76" y="411.30" font-size="9" class="r" text-anchor="middle" textLength="9.80" lengthAdjust="spacingAndGlyphs">40</text>
<line x1="432.64" y1="398.70" x2="432.64" y2="401.20" stroke="#999" stroke-width="1"/>
<text x="432.64" y="411.30" font-size="9" class="r" text-anchor="middle" textLength="9.80" lengthAdjust="spacingAndGlyphs">60</text>
<line x1="471.52" y1="398.70" x2="471.52" y2="401.20" stroke="#999" stroke-width="1"/>
<text x="471.52" y="411.30" font-size="9" class="r" text-anchor="middle" textLength="9.80" lengthAdjust="spacingAndGlyphs">80</text>
<line x1="510.40" y1="398.70" x2="510.40" y2="401.20" stroke="#999" stroke-width="1"/>
<text x="510.40" y="411.30" font-size="9" class="r" text-anchor="middle" textLength="14.70" lengthAdjust="spacingAndGlyphs">100</text>
<text x="414.00" y="422.30" font-size="11" font-weight="bold" class="b" text-anchor="middle" textLength="149.20" lengthAdjust="spacingAndGlyphs">Protein concentration (&#181;g/mL)</text>
<text x="287.60" y="330.90" font-size="10" font-weight="bold" class="b" text-anchor="middle" textLength="108.00" lengthAdjust="spacingAndGlyphs" transform="rotate(-90 287.60 330.90)">invasion (% of control)</text>
<polyline points="316.00,398.70 317.63,397.08 319.27,395.50 320.90,393.93 322.53,392.39 324.17,390.88 325.80,389.39 327.44,387.93 329.07,386.48 330.70,385.06 332.34,383.67 333.97,382.29 335.60,380.93 337.24,379.60 338.87,378.28 340.50,376.99 342.14,375.71 343.77,374.45 345.41,373.21 347.04,371.99 348.67,370.78 350.31,369.60 351.94,368.42 353.57,367.27 355.21,366.13 356.84,365.01 358.47,363.90 360.11,362.81 361.74,361.73 363.37,360.67 365.01,359.62 366.64,358.59 368.28,357.57 369.91,356.56 371.54,355.56 373.18,354.58 374.81,353.61 376.44,352.66 378.08,351.71 379.71,350.78 381.34,349.86 382.98,348.95 384.61,348.05 386.25,347.16 387.88,346.29 389.51,345.42 391.15,344.57 392.78,343.72 394.41,342.89 396.05,342.06 397.68,341.24 399.31,340.44 400.95,339.64 402.58,338.86 404.22,338.08 405.85,337.31 407.48,336.55 409.12,335.80 410.75,335.05 412.38,334.32 414.02,333.59 415.65,332.87 417.28,332.16 418.92,331.46 420.55,330.76 422.18,330.07 423.82,329.39 425.45,328.72 427.09,328.05 428.72,327.39 430.35,326.74 431.99,326.10 433.62,325.46 435.25,324.83 436.89,324.20 438.52,323.58 440.15,322.97 441.79,322.36 443.42,321.76 445.06,321.17 446.69,320.58 448.32,320.00 449.96,319.42 451.59,318.85 453.22,318.29 454.86,317.73 456.49,317.17 458.12,316.62 459.76,316.08 461.39,315.54 463.03,315.01 464.66,314.48 466.29,313.95 467.93,313.44 469.56,312.92 471.19,312.41 472.83,311.91 474.46,311.41 476.09,310.92 477.73,310.43 479.36,309.94 480.99,309.46 482.63,308.98 484.26,308.51 485.90,308.04 487.53,307.58 489.16,307.11 490.80,306.66 492.43,306.21 494.06,305.76 495.70,305.31 497.33,304.87 498.96,304.44 500.60,304.00 502.23,303.57 503.87,303.15 505.50,302.73 507.13,302.31 508.77,301.89 510.40,301.48" fill="none" stroke="#000" stroke-width="1.3" stroke-linejoin="round"/>
<line x1="328.15" y1="391.20" x2="328.15" y2="386.06" stroke="#444" stroke-width="1.3"/>
<line x1="325.25" y1="391.20" x2="331.05" y2="391.20" stroke="#444" stroke-width="1.3"/>
<line x1="325.25" y1="386.06" x2="331.05" y2="386.06" stroke="#444" stroke-width="1.3"/>
<line x1="340.30" y1="385.24" x2="340.30" y2="375.99" stroke="#444" stroke-width="1.3"/>
<line x1="337.40" y1="385.24" x2="343.20" y2="385.24" stroke="#444" stroke-width="1.3"/>
<line x1="337.40" y1="375.99" x2="343.20" y2="375.99" stroke="#444" stroke-width="1.3"/>
<line x1="364.60" y1="365.82" x2="364.60" y2="343.21" stroke="#444" stroke-width="1.3"/>
<line x1="361.70" y1="365.82" x2="367.50" y2="365.82" stroke="#444" stroke-width="1.3"/>
<line x1="361.70" y1="343.21" x2="367.50" y2="343.21" stroke="#444" stroke-width="1.3"/>
<line x1="413.20" y1="350.72" x2="413.20" y2="317.22" stroke="#444" stroke-width="1.3"/>
<line x1="410.30" y1="350.72" x2="416.10" y2="350.72" stroke="#444" stroke-width="1.3"/>
<line x1="410.30" y1="317.22" x2="416.10" y2="317.22" stroke="#444" stroke-width="1.3"/>
<line x1="510.40" y1="316.50" x2="510.40" y2="286.50" stroke="#444" stroke-width="1.3"/>
<line x1="507.50" y1="316.50" x2="513.30" y2="316.50" stroke="#444" stroke-width="1.3"/>
<line x1="507.50" y1="286.50" x2="513.30" y2="286.50" stroke="#444" stroke-width="1.3"/>
<rect x="325.65" y="395.10" width="5.00" height="5.00" fill="#fff" stroke="#000" stroke-width="1.1"/>
<polygon points="328.15,392.90 330.85,395.60 328.15,398.30 325.45,395.60" fill="#000" stroke="none" stroke-width="1"/>
<polygon points="325.45,393.55 330.85,393.55 328.15,398.25" fill="#000" stroke="#000" stroke-width="0.8"/>
<circle cx="328.15" cy="396.60" r="2.2" fill="#000" stroke="#000" stroke-width="1"/>
<rect x="327.05" y="397.60" width="2.20" height="1.60" fill="#fff" stroke="none" stroke-width="0"/>
<rect x="337.80" y="395.30" width="5.00" height="5.00" fill="#fff" stroke="#000" stroke-width="1.1"/>
<polygon points="340.30,391.80 343.10,394.60 340.30,397.40 337.50,394.60" fill="#000" stroke="none" stroke-width="1"/>
<polygon points="337.50,392.87 343.10,392.87 340.30,397.75" fill="#000" stroke="#000" stroke-width="0.8"/>
<circle cx="340.30" cy="396.20" r="2.3" fill="#000" stroke="#000" stroke-width="1"/>
<rect x="339.10" y="397.80" width="2.40" height="1.50" fill="#fff" stroke="none" stroke-width="0"/>
<rect x="362.10" y="395.10" width="5.00" height="5.00" fill="#fff" stroke="#000" stroke-width="1.1"/>
<polygon points="361.50,396.50 367.70,396.50 364.60,389.60" fill="#000" stroke="none" stroke-width="1"/>
<polygon points="364.60,392.60 367.20,395.20 364.60,397.80 362.00,395.20" fill="#000" stroke="none" stroke-width="1"/>
<rect x="363.40" y="397.60" width="2.40" height="1.50" fill="#fff" stroke="none" stroke-width="0"/>
<line x1="413.20" y1="384.60" x2="413.20" y2="390.60" stroke="#333" stroke-width="1.2"/>
<line x1="410.40" y1="384.60" x2="416.00" y2="384.60" stroke="#333" stroke-width="1.2"/>
<rect x="410.70" y="393.80" width="5.00" height="5.00" fill="#fff" stroke="#000" stroke-width="1.1"/>
<polygon points="410.40,389.93 416.00,389.93 413.20,385.05" fill="#fff" stroke="#000" stroke-width="0.9"/>
<polygon points="410.60,392.27 415.80,392.27 413.20,387.74" fill="#fff" stroke="#000" stroke-width="0.9"/>
<polygon points="413.20,390.00 415.80,392.60 413.20,395.20 410.60,392.60" fill="#000" stroke="none" stroke-width="1"/>
<polygon points="410.70,392.02 415.70,392.02 413.20,396.37" fill="#000" stroke="#000" stroke-width="0.8"/>
<circle cx="413.20" cy="393.40" r="2.2" fill="#000" stroke="#000" stroke-width="1"/>
<line x1="510.40" y1="378.40" x2="510.40" y2="385.20" stroke="#333" stroke-width="1.2"/>
<line x1="507.60" y1="378.40" x2="513.20" y2="378.40" stroke="#333" stroke-width="1.2"/>
<rect x="507.90" y="393.80" width="5.00" height="5.00" fill="#fff" stroke="#000" stroke-width="1.1"/>
<polygon points="507.60,384.53 513.20,384.53 510.40,379.65" fill="#fff" stroke="#000" stroke-width="0.9"/>
<polygon points="507.80,386.87 513.00,386.87 510.40,382.34" fill="#fff" stroke="#000" stroke-width="0.9"/>
<polygon points="510.40,388.90 513.00,391.50 510.40,394.10 507.80,391.50" fill="#000" stroke="none" stroke-width="1"/>
<polygon points="507.90,390.92 512.90,390.92 510.40,395.27" fill="#000" stroke="#000" stroke-width="0.8"/>
<circle cx="510.40" cy="392.30" r="2.2" fill="#000" stroke="#000" stroke-width="1"/>
<circle cx="328.15" cy="388.63" r="2.7" fill="#000" stroke="#000" stroke-width="1"/>
<circle cx="340.30" cy="380.62" r="2.7" fill="#000" stroke="#000" stroke-width="1"/>
<circle cx="364.60" cy="354.52" r="2.7" fill="#000" stroke="#000" stroke-width="1"/>
<circle cx="413.20" cy="333.97" r="2.7" fill="#000" stroke="#000" stroke-width="1"/>
<circle cx="510.40" cy="301.50" r="2.7" fill="#000" stroke="#000" stroke-width="1"/>
<circle cx="322.00" cy="280.60" r="2.7" fill="#000" stroke="#000" stroke-width="1"/>
<circle cx="322.00" cy="291.50" r="2.3" fill="#fff" stroke="#000" stroke-width="1.2"/>
<polygon points="322.00,299.60 325.10,302.70 322.00,305.80 318.90,302.70" fill="#000" stroke="none" stroke-width="1"/>
<polygon points="318.90,311.42 325.10,311.42 322.00,316.82" fill="#000" stroke="#000" stroke-width="0.8"/>
<polygon points="322.00,322.10 325.10,325.20 322.00,328.30 318.90,325.20" fill="#000" stroke="none" stroke-width="1"/>
<rect x="319.40" y="332.80" width="5.20" height="5.20" fill="#fff" stroke="#000" stroke-width="1.1"/>
<polygon points="319.10,348.02 324.90,348.02 322.00,342.96" fill="#fff" stroke="#000" stroke-width="0.9"/>
<polygon points="319.10,358.92 324.90,358.92 322.00,353.86" fill="#fff" stroke="#000" stroke-width="0.9"/>
<text x="334.20" y="283.80" font-size="8.7" class="r" textLength="72.70" lengthAdjust="spacingAndGlyphs">HighMw Kininogen</text>
<text x="334.20" y="294.00" font-size="8.7" class="r" textLength="70.00" lengthAdjust="spacingAndGlyphs">LowMw Kininogen</text>
<text x="334.20" y="305.00" font-size="8.7" class="r" textLength="45.50" lengthAdjust="spacingAndGlyphs">Fibronectin</text>
<text x="334.20" y="316.70" font-size="8.7" class="r" textLength="43.50" lengthAdjust="spacingAndGlyphs">Vitronectin</text>
<text x="334.20" y="327.30" font-size="8.7" class="r" textLength="52.30" lengthAdjust="spacingAndGlyphs">Plasminogen</text>
<text x="334.20" y="337.70" font-size="8.7" class="r" textLength="43.00" lengthAdjust="spacingAndGlyphs">Fibrinogen</text>
<text x="334.20" y="347.90" font-size="8.7" class="r" textLength="16.50" lengthAdjust="spacingAndGlyphs">HDL</text>
<text x="334.20" y="358.50" font-size="8.7" class="r" textLength="15.50" lengthAdjust="spacingAndGlyphs">LDL</text>
<text x="1.30" y="458.40" font-size="15" font-weight="bold" class="b" textLength="8.60" lengthAdjust="spacingAndGlyphs">E</text>
<line x1="63.30" y1="446.50" x2="63.30" y2="594.30" stroke="#444" stroke-width="1"/>
<line x1="63.30" y1="594.30" x2="232.50" y2="594.30" stroke="#555" stroke-width="1.1"/>
<line x1="60.10" y1="594.30" x2="63.30" y2="594.30" stroke="#333" stroke-width="1"/>
<text x="59.00" y="597.20" font-size="8.3" font-weight="bold" class="b" text-anchor="end" textLength="4.95" lengthAdjust="spacingAndGlyphs">0</text>
<line x1="60.10" y1="557.35" x2="63.30" y2="557.35" stroke="#333" stroke-width="1"/>
<text x="59.00" y="560.25" font-size="8.3" font-weight="bold" class="b" text-anchor="end" textLength="14.85" lengthAdjust="spacingAndGlyphs">250</text>
<line x1="60.10" y1="520.40" x2="63.30" y2="520.40" stroke="#333" stroke-width="1"/>
<text x="59.00" y="523.30" font-size="8.3" font-weight="bold" class="b" text-anchor="end" textLength="14.85" lengthAdjust="spacingAndGlyphs">500</text>
<line x1="60.10" y1="483.45" x2="63.30" y2="483.45" stroke="#333" stroke-width="1"/>
<text x="59.00" y="486.35" font-size="8.3" font-weight="bold" class="b" text-anchor="end" textLength="14.85" lengthAdjust="spacingAndGlyphs">750</text>
<line x1="60.10" y1="446.50" x2="63.30" y2="446.50" stroke="#333" stroke-width="1"/>
<text x="59.00" y="449.40" font-size="8.3" font-weight="bold" class="b" text-anchor="end" textLength="19.80" lengthAdjust="spacingAndGlyphs">1000</text>
<rect x="73.50" y="580.30" width="22.00" height="14.00" fill="#fff" stroke="#222" stroke-width="1"/>
<line x1="84.50" y1="580.30" x2="84.50" y2="578.20" stroke="#000" stroke-width="1"/>
<line x1="79.00" y1="578.20" x2="90.00" y2="578.20" stroke="#000" stroke-width="1"/>
<rect x="105.20" y="488.70" width="21.70" height="105.60" fill="#888" stroke="#222" stroke-width="1"/>
<line x1="116.05" y1="488.70" x2="116.05" y2="480.20" stroke="#000" stroke-width="1"/>
<line x1="110.55" y1="480.20" x2="121.55" y2="480.20" stroke="#000" stroke-width="1"/>
<rect x="136.80" y="583.10" width="21.90" height="11.20" fill="#888" stroke="#222" stroke-width="1"/>
<line x1="147.75" y1="583.10" x2="147.75" y2="581.00" stroke="#000" stroke-width="1"/>
<line x1="142.25" y1="581.00" x2="153.25" y2="581.00" stroke="#000" stroke-width="1"/>
<rect x="168.40" y="578.60" width="21.30" height="15.70" fill="#888" stroke="#222" stroke-width="1"/>
<line x1="179.05" y1="578.60" x2="179.05" y2="576.30" stroke="#000" stroke-width="1"/>
<line x1="173.55" y1="576.30" x2="184.55" y2="576.30" stroke="#000" stroke-width="1"/>
<rect x="200.00" y="584.30" width="21.90" height="10.00" fill="#888" stroke="#222" stroke-width="1"/>
<line x1="210.95" y1="584.30" x2="210.95" y2="582.20" stroke="#000" stroke-width="1"/>
<line x1="205.45" y1="582.20" x2="216.45" y2="582.20" stroke="#000" stroke-width="1"/>
<rect x="67.10" y="450.40" width="14.60" height="4.60" fill="#fff" stroke="#222" stroke-width="1"/>
<rect x="67.10" y="459.60" width="14.60" height="4.60" fill="#888" stroke="#222" stroke-width="1"/>
<text x="84.00" y="455.90" font-size="8.2" font-weight="bold" class="b" textLength="64.00" lengthAdjust="spacingAndGlyphs">Serum-free +GF</text>
<text x="84.00" y="464.80" font-size="8.2" font-weight="bold" class="b" textLength="134.50" lengthAdjust="spacingAndGlyphs">Serum-free + GF + hMw Kininogen</text>
<text x="23.40" y="514.80" font-size="8.6" font-weight="bold" class="b" text-anchor="middle" textLength="65.40" lengthAdjust="spacingAndGlyphs" transform="rotate(-90 23.40 514.80)">Relative Invasion</text>
<text x="32.60" y="515.00" font-size="8.6" font-weight="bold" class="b" text-anchor="middle" textLength="54.00" lengthAdjust="spacingAndGlyphs" transform="rotate(-90 32.60 515.00)">(% of control)</text>
<text x="86.50" y="602.80" font-size="9.5" font-weight="bold" class="b" text-anchor="end" textLength="36.00" lengthAdjust="spacingAndGlyphs" transform="rotate(-45 86.50 602.80)">Control</text>
<text x="118.50" y="602.80" font-size="9.5" font-weight="bold" class="b" text-anchor="end" textLength="36.00" lengthAdjust="spacingAndGlyphs" transform="rotate(-45 118.50 602.80)">Control</text>
<text x="150.00" y="602.80" font-size="9.5" font-weight="bold" class="b" text-anchor="end" textLength="41.00" lengthAdjust="spacingAndGlyphs" transform="rotate(-45 150.00 602.80)">Bestatin</text>
<text x="180.50" y="602.80" font-size="9.5" font-weight="bold" class="b" text-anchor="end" textLength="46.00" lengthAdjust="spacingAndGlyphs" transform="rotate(-45 180.50 602.80)">CD13mAb</text>
<text class="b" x="213.5" y="602.8" font-size="9.5" font-weight="bold" text-anchor="end" transform="rotate(-45 213.5 602.8)" textLength="73" lengthAdjust="spacingAndGlyphs">B<tspan font-size="7" dy="2.2">2</tspan><tspan dy="-2.2">R antagonist</tspan></text>
<text x="213.40" y="627.20" font-size="9.5" font-weight="bold" class="b" text-anchor="end" textLength="41.00" lengthAdjust="spacingAndGlyphs" transform="rotate(-45 213.40 627.20)">(HOE 140)</text>
<text x="290.40" y="458.40" font-size="15" font-weight="bold" class="b" textLength="8.40" lengthAdjust="spacingAndGlyphs">F</text>
<line x1="318.90" y1="470.30" x2="318.90" y2="596.70" stroke="#222" stroke-width="1.2"/>
<line x1="318.90" y1="596.70" x2="508.50" y2="596.70" stroke="#222" stroke-width="1.2"/>
<line x1="315.60" y1="596.70" x2="318.90" y2="596.70" stroke="#222" stroke-width="1.2"/>
<text x="313.90" y="599.90" font-size="9.2" class="r" text-anchor="end" textLength="5.00" lengthAdjust="spacingAndGlyphs" style="stroke-width:0.4px">0</text>
<line x1="315.60" y1="571.42" x2="318.90" y2="571.42" stroke="#222" stroke-width="1.2"/>
<text x="313.90" y="574.62" font-size="9.2" class="r" text-anchor="end" textLength="10.00" lengthAdjust="spacingAndGlyphs" style="stroke-width:0.4px">20</text>
<line x1="315.60" y1="546.14" x2="318.90" y2="546.14" stroke="#222" stroke-width="1.2"/>
<text x="313.90" y="549.34" font-size="9.2" class="r" text-anchor="end" textLength="10.00" lengthAdjust="spacingAndGlyphs" style="stroke-width:0.4px">40</text>
<line x1="315.60" y1="520.86" x2="318.90" y2="520.86" stroke="#222" stroke-width="1.2"/>
<text x="313.90" y="524.06" font-size="9.2" class="r" text-anchor="end" textLength="10.00" lengthAdjust="spacingAndGlyphs" style="stroke-width:0.4px">60</text>
<line x1="315.60" y1="495.58" x2="318.90" y2="495.58" stroke="#222" stroke-width="1.2"/>
<text x="313.90" y="498.78" font-size="9.2" class="r" text-anchor="end" textLength="10.00" lengthAdjust="spacingAndGlyphs" style="stroke-width:0.4px">80</text>
<line x1="315.60" y1="470.30" x2="318.90" y2="470.30" stroke="#222" stroke-width="1.2"/>
<text x="313.90" y="473.50" font-size="9.2" class="r" text-anchor="end" textLength="15.00" lengthAdjust="spacingAndGlyphs" style="stroke-width:0.4px">100</text>
<line x1="318.90" y1="596.70" x2="318.90" y2="599.70" stroke="#222" stroke-width="1.2"/>
<text x="318.90" y="609.60" font-size="9.3" class="r" text-anchor="middle" textLength="5.00" lengthAdjust="spacingAndGlyphs" style="stroke-width:0.4px">2</text>
<line x1="366.30" y1="596.70" x2="366.30" y2="599.70" stroke="#222" stroke-width="1.2"/>
<text x="366.30" y="609.60" font-size="9.3" class="r" text-anchor="middle" textLength="5.00" lengthAdjust="spacingAndGlyphs" style="stroke-width:0.4px">3</text>
<line x1="413.70" y1="596.70" x2="413.70" y2="599.70" stroke="#222" stroke-width="1.2"/>
<text x="413.70" y="609.60" font-size="9.3" class="r" text-anchor="middle" textLength="5.00" lengthAdjust="spacingAndGlyphs" style="stroke-width:0.4px">4</text>
<line x1="461.10" y1="596.70" x2="461.10" y2="599.70" stroke="#222" stroke-width="1.2"/>
<text x="461.10" y="609.60" font-size="9.3" class="r" text-anchor="middle" textLength="5.00" lengthAdjust="spacingAndGlyphs" style="stroke-width:0.4px">5</text>
<line x1="508.50" y1="596.70" x2="508.50" y2="599.70" stroke="#222" stroke-width="1.2"/>
<text x="508.50" y="609.60" font-size="9.3" class="r" text-anchor="middle" textLength="5.00" lengthAdjust="spacingAndGlyphs" style="stroke-width:0.4px">6</text>
<text x="413.20" y="625.30" font-size="10.5" font-weight="bold" class="b" text-anchor="middle" textLength="171.30" lengthAdjust="spacingAndGlyphs">Log of HOE140 concentration (nM)</text>
<text x="292.20" y="528.50" font-size="10.1" font-weight="bold" class="b" text-anchor="middle" textLength="111.80" lengthAdjust="spacingAndGlyphs" transform="rotate(-90 292.20 528.50)">Invasion (% of control)</text>
<polyline points="318.90,475.39 320.09,475.62 321.28,475.87 322.48,476.13 323.67,476.40 324.86,476.68 326.05,476.97 327.25,477.28 328.44,477.60 329.63,477.93 330.82,478.28 332.02,478.64 333.21,479.02 334.40,479.42 335.59,479.83 336.79,480.25 337.98,480.70 339.17,481.16 340.36,481.64 341.56,482.14 342.75,482.66 343.94,483.20 345.13,483.76 346.33,484.34 347.52,484.95 348.71,485.57 349.90,486.22 351.10,486.90 352.29,487.59 353.48,488.31 354.67,489.06 355.87,489.83 357.06,490.63 358.25,491.45 359.44,492.30 360.64,493.18 361.83,494.08 363.02,495.01 364.21,495.97 365.41,496.96 366.60,497.97 367.79,499.01 368.98,500.08 370.18,501.17 371.37,502.29 372.56,503.44 373.75,504.62 374.95,505.82 376.14,507.04 377.33,508.29 378.52,509.57 379.72,510.86 380.91,512.18 382.10,513.52 383.29,514.89 384.48,516.27 385.68,517.66 386.87,519.08 388.06,520.51 389.25,521.95 390.45,523.41 391.64,524.88 392.83,526.36 394.02,527.84 395.22,529.33 396.41,530.83 397.60,532.33 398.79,533.83 399.99,535.33 401.18,536.83 402.37,538.32 403.56,539.81 404.76,541.30 405.95,542.77 407.14,544.23 408.33,545.68 409.53,547.12 410.72,548.55 411.91,549.95 413.10,551.34 414.30,552.72 415.49,554.07 416.68,555.40 417.87,556.71 419.07,558.00 420.26,559.26 421.45,560.50 422.64,561.71 423.84,562.90 425.03,564.07 426.22,565.20 427.41,566.31 428.61,567.40 429.80,568.45 430.99,569.48 432.18,570.48 433.38,571.45 434.57,572.40 435.76,573.32 436.95,574.21 438.15,575.07 439.34,575.91 440.53,576.72 441.72,577.51 442.92,578.27 444.11,579.01 445.30,579.72 446.49,580.40 447.68,581.07 448.88,581.70 450.07,582.32 451.26,582.92 452.45,583.49 453.65,584.04 454.84,584.57 456.03,585.08 457.22,585.57 458.42,586.05 459.61,586.50 460.80,586.94 461.99,587.36 463.19,587.76 464.38,588.15 465.57,588.52 466.76,588.87 467.96,589.21 469.15,589.54 470.34,589.86 471.53,590.16 472.73,590.45 473.92,590.72 475.11,590.99 476.30,591.24 477.50,591.48 478.69,591.72 479.88,591.94 481.07,592.15 482.27,592.35 483.46,592.55 484.65,592.74 485.84,592.91 487.04,593.09 488.23,593.25 489.42,593.40 490.61,593.55 491.81,593.70 493.00,593.83 494.19,593.96 495.38,594.09 496.58,594.21 497.77,594.32 498.96,594.43 500.15,594.53 501.35,594.63 502.54,594.72 503.73,594.81 504.92,594.90 506.12,594.98 507.31,595.06 508.50,595.14" fill="none" stroke="#000" stroke-width="1.3" stroke-linejoin="round"/>
<line x1="347.34" y1="494.70" x2="347.34" y2="480.29" stroke="#000" stroke-width="1.2"/>
<line x1="344.54" y1="494.70" x2="350.14" y2="494.70" stroke="#000" stroke-width="1.2"/>
<line x1="344.54" y1="480.29" x2="350.14" y2="480.29" stroke="#000" stroke-width="1.2"/>
<circle cx="347.34" cy="487.49" r="2.7" fill="#000" stroke="#000" stroke-width="1"/>
<line x1="371.04" y1="505.57" x2="371.04" y2="495.45" stroke="#000" stroke-width="1.2"/>
<line x1="368.24" y1="505.57" x2="373.84" y2="505.57" stroke="#000" stroke-width="1.2"/>
<line x1="368.24" y1="495.45" x2="373.84" y2="495.45" stroke="#000" stroke-width="1.2"/>
<circle cx="371.04" cy="500.51" r="2.7" fill="#000" stroke="#000" stroke-width="1"/>
<line x1="385.26" y1="530.59" x2="385.26" y2="519.47" stroke="#000" stroke-width="1.2"/>
<line x1="382.46" y1="530.59" x2="388.06" y2="530.59" stroke="#000" stroke-width="1.2"/>
<line x1="382.46" y1="519.47" x2="388.06" y2="519.47" stroke="#000" stroke-width="1.2"/>
<circle cx="385.26" cy="525.03" r="2.7" fill="#000" stroke="#000" stroke-width="1"/>
<line x1="399.48" y1="539.57" x2="399.48" y2="529.46" stroke="#000" stroke-width="1.2"/>
<line x1="396.68" y1="539.57" x2="402.28" y2="539.57" stroke="#000" stroke-width="1.2"/>
<line x1="396.68" y1="529.46" x2="402.28" y2="529.46" stroke="#000" stroke-width="1.2"/>
<circle cx="399.48" cy="534.51" r="2.7" fill="#000" stroke="#000" stroke-width="1"/>
<line x1="413.70" y1="551.20" x2="413.70" y2="545.38" stroke="#000" stroke-width="1.2"/>
<line x1="410.90" y1="551.20" x2="416.50" y2="551.20" stroke="#000" stroke-width="1.2"/>
<line x1="410.90" y1="545.38" x2="416.50" y2="545.38" stroke="#000" stroke-width="1.2"/>
<circle cx="413.70" cy="548.29" r="2.7" fill="#000" stroke="#000" stroke-width="1"/>
<line x1="427.92" y1="572.05" x2="427.92" y2="567.00" stroke="#000" stroke-width="1.2"/>
<line x1="425.12" y1="572.05" x2="430.72" y2="572.05" stroke="#000" stroke-width="1.2"/>
<line x1="425.12" y1="567.00" x2="430.72" y2="567.00" stroke="#000" stroke-width="1.2"/>
<circle cx="427.92" cy="569.52" r="2.7" fill="#000" stroke="#000" stroke-width="1"/>
<line x1="446.88" y1="586.84" x2="446.88" y2="578.25" stroke="#000" stroke-width="1.2"/>
<line x1="444.08" y1="586.84" x2="449.68" y2="586.84" stroke="#000" stroke-width="1.2"/>
<line x1="444.08" y1="578.25" x2="449.68" y2="578.25" stroke="#000" stroke-width="1.2"/>
<circle cx="446.88" cy="582.54" r="2.7" fill="#000" stroke="#000" stroke-width="1"/>
</svg>
</body></html>
